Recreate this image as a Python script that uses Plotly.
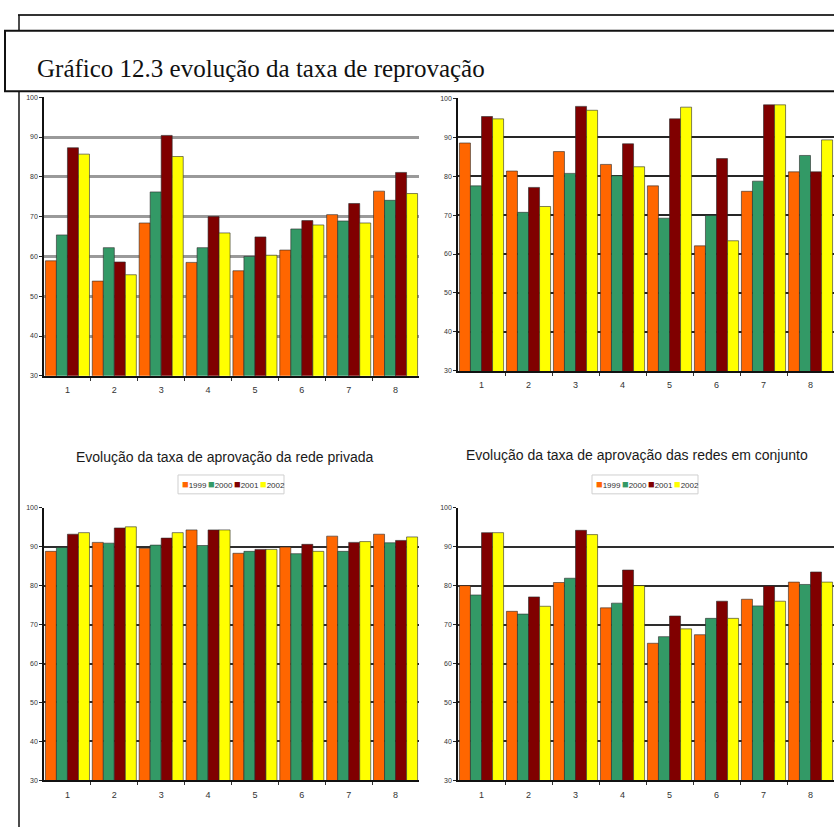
import plotly.graph_objects as go

# Canvas size in pixels
W, H = 834, 830

# Category labels (series 1..8) and legend years
categorias = [1, 2, 3, 4, 5, 6, 7, 8]
anos = ["1999", "2000", "2001", "2002"]
cores = ["#FF6600", "#339966", "#800000", "#FFFF00"]

# Rates per panel: one row per year (1999, 2000, 2001, 2002)
sup_esq = [
    [58.9, 53.8, 68.4, 58.5, 56.4, 61.6, 70.5, 76.4],
    [65.4, 62.2, 76.2, 62.2, 60.0, 66.9, 68.9, 74.1],
    [87.3, 58.6, 90.4, 70.0, 64.9, 69.0, 73.3, 81.1],
    [85.7, 55.4, 85.1, 65.9, 60.3, 67.9, 68.4, 75.8],
]
sup_dir = [
    [88.5, 81.3, 86.3, 83.0, 77.5, 62.1, 76.1, 81.1],
    [77.5, 70.7, 80.7, 80.1, 69.2, 69.9, 78.7, 85.3],
    [95.3, 77.1, 97.9, 88.3, 94.7, 84.5, 98.3, 81.1],
    [94.7, 72.2, 96.9, 82.4, 97.7, 63.4, 98.3, 89.3],
]
privada = [
    [88.8, 91.1, 89.6, 94.3, 88.3, 89.9, 92.7, 93.2],
    [89.8, 90.9, 90.4, 90.3, 88.8, 88.2, 88.8, 91.0],
    [93.2, 94.8, 92.2, 94.3, 89.3, 90.6, 91.1, 91.6],
    [93.6, 95.1, 93.6, 94.3, 89.3, 88.8, 91.3, 92.5],
]
conjunto = [
    [80.0, 73.4, 80.8, 74.3, 65.2, 67.4, 76.5, 80.9],
    [77.6, 72.7, 81.9, 75.5, 66.9, 71.6, 74.8, 80.3],
    [93.6, 77.1, 94.2, 84.0, 72.2, 76.0, 79.9, 83.5],
    [93.6, 74.7, 93.1, 80.0, 68.9, 71.6, 76.0, 80.9],
]

titulo = "Gráfico 12.3 evolução da taxa de reprovação"
titulo_privada = "Evolução da taxa de aprovação da rede privada"
titulo_conjunto = "Evolução da taxa de aprovação das redes em conjunto"

SANS = "Liberation Sans, Arial, sans-serif"


def xp(px):
    return px / W


def yp(py):
    return 1 - py / H


fig = go.Figure()

paineis = [
    (sup_esq, "x", "y"),
    (sup_dir, "x2", "y2"),
    (privada, "x3", "y3"),
    (conjunto, "x4", "y4"),
]
for dados, xa, ya in paineis:
    for ano, cor, valores in zip(anos, cores, dados):
        fig.add_trace(go.Bar(
            x=categorias, y=valores, name=ano, xaxis=xa, yaxis=ya,
            marker=dict(color=cor, line=dict(color="#2a2a2a", width=0.6)),
            showlegend=False, hoverinfo="x+y+name",
        ))

# Axis domains (pixel positions converted to paper fractions)
left_x = [xp(44), xp(419)]
right_x = [xp(458), 1.0]
top_y_left = [yp(375), yp(94)]
top_y_right = [yp(370), yp(95)]
bot_y = [yp(783), yp(508)]


def eixo_x(domain, anchor):
    return dict(
        domain=domain, anchor=anchor, range=[0.5, 8.5],
        tickmode="array", tickvals=categorias, ticktext=[str(c) for c in categorias],
        showline=True, linecolor="#111", linewidth=1.5, showgrid=False, zeroline=False,
        ticks="", ticklabelstandoff=5,
        tickfont=dict(family=SANS, size=9, color="#333"),
        minor=dict(tickvals=[1.5, 2.5, 3.5, 4.5, 5.5, 6.5, 7.5], ticks="outside",
                   ticklen=3, tickcolor="#333", tickwidth=1),
    )


def eixo_y(domain, anchor, gridcolor, gridwidth):
    return dict(
        domain=domain, anchor=anchor, range=[30, 100], dtick=10, tick0=30,
        showline=True, linecolor="#111", linewidth=1.5, zeroline=False,
        showgrid=True, gridcolor=gridcolor, gridwidth=gridwidth,
        ticks="outside", ticklen=3, tickcolor="#222",
        tickfont=dict(family=SANS, size=7, color="#333"),
    )


fig.update_layout(
    width=W, height=H, autosize=False,
    margin=dict(l=0, r=0, t=0, b=0),
    paper_bgcolor="white", plot_bgcolor="white",
    barmode="group", bargap=0.06, bargroupgap=0.0,
    showlegend=False,
    xaxis=eixo_x(left_x, "y"),
    yaxis=eixo_y(top_y_left, "x", "#9a9a9a", 3),
    xaxis2=eixo_x(right_x, "y2"),
    yaxis2=eixo_y(top_y_right, "x2", "#262626", 2),
    xaxis3=eixo_x(left_x, "y3"),
    yaxis3=eixo_y(bot_y, "x3", "#2e2e2e", 1.6),
    xaxis4=eixo_x(right_x, "y4"),
    yaxis4=eixo_y(bot_y, "x4", "#2e2e2e", 1.6),
)

shapes = [
    # page frame lines
    dict(type="line", xref="paper", yref="paper", x0=xp(18), x1=1.0, y0=yp(11), y1=yp(11),
         line=dict(color="#333", width=2)),
    dict(type="line", xref="paper", yref="paper", x0=xp(19), x1=xp(19), y0=yp(11), y1=0,
         line=dict(color="#111", width=1.5)),
    # caption box
    dict(type="rect", xref="paper", yref="paper", x0=xp(5), x1=1.05, y0=yp(27), y1=yp(88),
         fillcolor="white", line=dict(color="#111", width=2)),
]

annotations = [
    dict(text=titulo, xref="paper", yref="paper", x=xp(35), y=yp(65),
         xanchor="left", yanchor="middle", showarrow=False,
         font=dict(family="Liberation Serif, Times New Roman, serif", size=25, color="#111")),
    dict(text=titulo_privada, xref="paper", yref="paper", x=xp(225), y=yp(457),
         xanchor="center", yanchor="middle", showarrow=False,
         font=dict(family=SANS, size=14, color="#1a1a1a")),
    dict(text=titulo_conjunto, xref="paper", yref="paper", x=xp(637), y=yp(455),
         xanchor="center", yanchor="middle", showarrow=False,
         font=dict(family=SANS, size=14, color="#1a1a1a")),
]

# Legend boxes for the two lower panels
for left, top in [(178, 475), (592, 475)]:
    shapes.append(dict(type="rect", xref="paper", yref="paper",
                       x0=xp(left), x1=xp(left + 106), y0=yp(top), y1=yp(top + 19),
                       fillcolor="white", line=dict(color="#cfcfcf", width=1)))
    for i, (ano, cor) in enumerate(zip(anos, cores)):
        annotations.append(dict(
            text=f"<span style='color:{cor};font-size:11px'>■</span>{ano}",
            xref="paper", yref="paper", x=xp(left + 2 + i * 26), y=yp(top + 9.5),
            xanchor="left", yanchor="middle", showarrow=False,
            font=dict(family=SANS, size=8, color="#333"),
        ))

fig.update_layout(shapes=shapes, annotations=annotations)

fig.write_html("out.html")
